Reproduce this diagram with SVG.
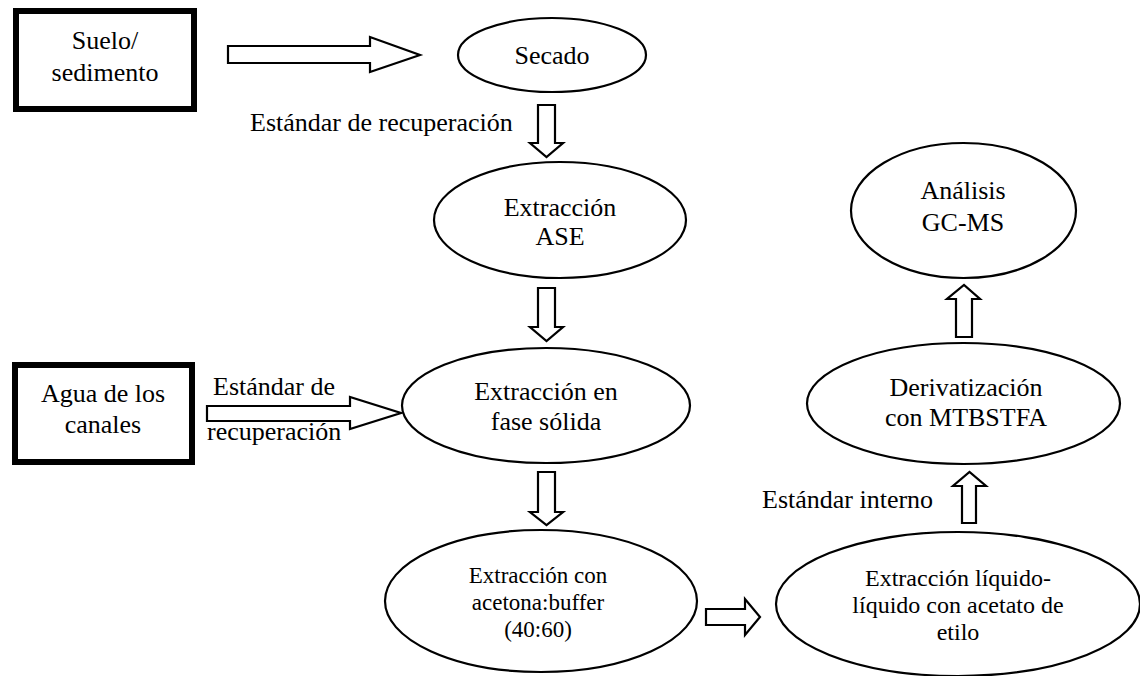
<svg xmlns="http://www.w3.org/2000/svg" width="1140" height="676" viewBox="0 0 1140 676">
<style>
.box{fill:#fff;stroke:#000;stroke-width:6}
.ell{fill:#fff;stroke:#000;stroke-width:2.2}
.arr{fill:#fff;stroke:#000;stroke-width:2.2;stroke-linejoin:miter}
text{font-family:"Liberation Serif","Times New Roman",serif;fill:#000;font-size:26px}
.c{text-anchor:middle}
.s{font-size:23px}
.m{font-size:24px}
</style>
<rect width="1140" height="676" fill="#fff"/>
<g id="connectors">
<polygon class="arr" points="228,46 370,46 370,37 420,55 370,72 370,63 228,63"/>
<polygon class="arr" points="538,105 555,105 555,143 563,143 546.5,157 530,143 538,143"/>
<polygon class="arr" points="538,288 555,288 555,327 563,327 546.5,341 530,327 538,327"/>
<polygon class="arr" points="538,472 555,472 555,512 563,512 546.5,525 530,512 538,512"/>
<polygon class="arr" points="207,406 350,406 350,397 401,413 350,429 350,421 207,421"/>
<polygon class="arr" points="706,609 745,609 745,599 760,617 745,635 745,625 706,625"/>
<polygon class="arr" points="962,523 976,523 976,486 986,486 969.5,472 953,486 962,486"/>
<polygon class="arr" points="956,337 972,337 972,299 980,299 964,285 947,299 956,299"/>
<text x="250" y="131">Estándar de recuperación</text>
<text x="213" y="395">Estándar de</text>
<text x="207" y="440">recuperación</text>
<text x="762" y="508">Estándar interno</text>
</g>
<g id="suelo">
<rect class="box" x="16" y="11" width="178" height="98"/>
<text class="c" x="105" y="49">Suelo/</text>
<text class="c" x="105" y="81">sedimento</text>
</g>
<g id="agua">
<rect class="box" x="15" y="365" width="177" height="97"/>
<text class="c" x="103" y="402">Agua de los</text>
<text class="c" x="103" y="433">canales</text>
</g>
<g id="secado">
<ellipse class="ell" cx="552" cy="55" rx="94" ry="37"/>
<text class="c" x="552" y="64">Secado</text>
</g>
<g id="ase">
<ellipse class="ell" cx="560" cy="220" rx="126" ry="58"/>
<text class="c" x="560" y="216">Extracción</text>
<text class="c" x="560" y="245">ASE</text>
</g>
<g id="spe">
<ellipse class="ell" cx="546" cy="405.5" rx="144" ry="57.5"/>
<text class="c" x="546" y="400">Extracción en</text>
<text class="c" x="546" y="430">fase sólida</text>
</g>
<g id="acetona">
<ellipse class="ell" cx="541" cy="601" rx="156" ry="71"/>
<text class="c s" x="538" y="583">Extracción con</text>
<text class="c s" x="538" y="610">acetona:buffer</text>
<text class="c s" x="538" y="637">(40:60)</text>
</g>
<g id="liquido">
<ellipse class="ell" cx="958" cy="604" rx="182" ry="72"/>
<text class="c m" x="958" y="586">Extracción líquido-</text>
<text class="c m" x="958" y="613">líquido con acetato de</text>
<text class="c m" x="958" y="640">etilo</text>
</g>
<g id="derivatizacion">
<ellipse class="ell" cx="963.5" cy="403.5" rx="156.5" ry="60.5"/>
<text class="c" x="966" y="396">Derivatización</text>
<text class="c" x="966" y="426">con MTBSTFA</text>
</g>
<g id="analisis">
<ellipse class="ell" cx="963.5" cy="210.5" rx="112.5" ry="67.5"/>
<text class="c" x="963" y="199">Análisis</text>
<text class="c" x="963" y="231">GC-MS</text>
</g>
</svg>
